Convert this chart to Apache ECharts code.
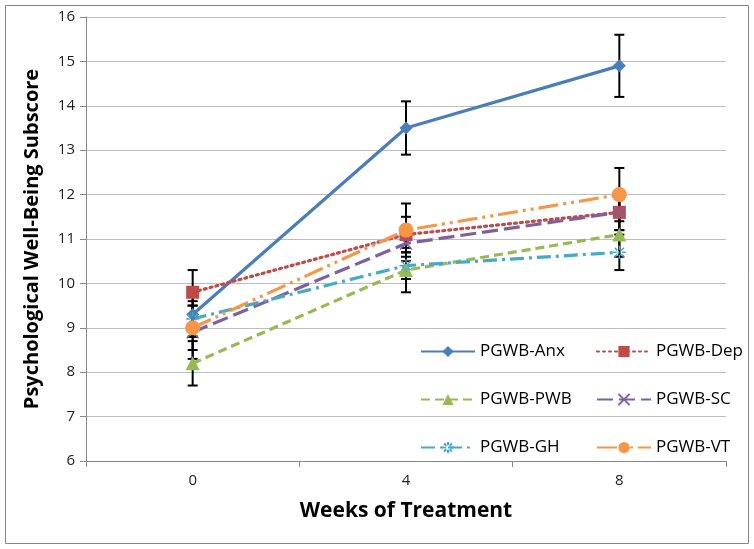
<!DOCTYPE html>
<html><head><meta charset="utf-8">
<script src="https://cdn.jsdelivr.net/npm/echarts@6/dist/echarts.min.js"></script>
<style>html,body{margin:0;padding:0;background:#fff}#c{width:754px;height:549px}</style>
</head><body><div id="c"></div>
<script>
var categories = ['0', '4', '8'];
var names = ['PGWB-Anx', 'PGWB-Dep', 'PGWB-PWB', 'PGWB-SC', 'PGWB-GH', 'PGWB-VT'];
var anx = [9.3, 13.5, 14.9];
var dep = [9.8, 11.1, 11.6];
var pwb = [8.2, 10.3, 11.1];
var sc  = [8.9, 10.9, 11.6];
var gh  = [9.2, 10.4, 10.7];
var vt  = [9.0, 11.2, 12.0];
var anxErr = [0.5, 0.6, 0.7];
var depErr = [0.5, 0.4, 0.4];
var pwbErr = [0.5, 0.5, 0.5];
var scErr  = [0.6, 0.4, 0.4];
var ghErr  = [0.4, 0.3, 0.4];
var vtErr  = [0.5, 0.6, 0.6];
var yTicks = [6, 16, 1];

var values = [anx, dep, pwb, sc, gh, vt];
var errs = [anxErr, depErr, pwbErr, scErr, ghErr, vtErr];
var colors = ['#4A7EBB', '#BE4B48', '#98B954', '#7D60A0', '#46AAC5', '#F79646'];
var dashes = ['solid', [2, 4], [9, 5], [16, 6], [14, 5, 3, 5], [20, 5, 3, 5, 3, 5]];
var symbols = [
  'diamond', 'rect', 'triangle',
  'path://M0,0L10,10M10,0L0,10',
  'path://M5,0L5,3M5,7L5,10M0,5L3,5M7,5L10,5M1.5,1.5L3.5,3.5M6.5,6.5L8.5,8.5M8.5,1.5L6.5,3.5M3.5,6.5L1.5,8.5',
  'circle'];
var symSizes = [13, 13, 14, 12, 13, 15];

var series = [];
values.forEach(function (v, si) {
  var d = v.map(function (y, i) { return [i, y - errs[si][i], y + errs[si][i]]; });
  series.push({
    type: 'custom', name: 'err' + si, data: d, z: 1, silent: true,
    renderItem: function (params, api) {
      var lo = api.coord([api.value(0), api.value(1)]);
      var hi = api.coord([api.value(0), api.value(2)]);
      var w = 5;
      var st = { stroke: '#000', lineWidth: 2 };
      return { type: 'group', children: [
        { type: 'line', shape: { x1: hi[0], y1: hi[1], x2: lo[0], y2: lo[1] }, style: st },
        { type: 'line', shape: { x1: hi[0] - w, y1: hi[1], x2: hi[0] + w, y2: hi[1] }, style: st },
        { type: 'line', shape: { x1: lo[0] - w, y1: lo[1], x2: lo[0] + w, y2: lo[1] }, style: st }
      ]};
    }
  });
});
values.forEach(function (v, si) {
  var isStroke = (si === 3 || si === 4);
  series.push({
    type: 'line', name: names[si], data: v, z: 3,
    symbol: symbols[si], symbolSize: symSizes[si], showSymbol: true,
    lineStyle: { color: colors[si], width: 3.2, type: dashes[si], cap: si === 1 ? 'round' : 'butt' },
    itemStyle: isStroke ? { color: 'rgba(0,0,0,0)', borderColor: colors[si], borderWidth: 1.5 }
                        : { color: colors[si], borderColor: colors[si], borderWidth: 0 }
  });
});

var legendBase = {
  orient: 'vertical', itemWidth: 54, itemHeight: 14, itemGap: 31,
  textStyle: { fontFamily: 'Open Sans', fontSize: 17, color: '#000', padding: [0, 0, 0, 0] }
};
var chart = echarts.init(document.getElementById('c'));
chart.setOption({
  animation: false,
  backgroundColor: '#fff',
  grid: { left: 86, right: 28, top: 17, bottom: 88 },
  legend: [
    Object.assign({}, legendBase, { left: 415, top: 338, data: [names[0], names[2], names[4]] }),
    Object.assign({}, legendBase, { left: 591, top: 338, data: [names[1], names[3], names[5]] })
  ],
  xAxis: {
    type: 'category', data: categories, boundaryGap: true,
    name: 'Weeks of Treatment', nameLocation: 'middle', nameGap: 40,
    nameTextStyle: { fontFamily: 'Open Sans', fontWeight: 'bold', fontSize: 21, color: '#000' },
    axisLine: { lineStyle: { color: '#898989', width: 1 } },
    axisTick: { show: true, length: 6, lineStyle: { color: '#898989' } },
    axisLabel: { fontFamily: 'Open Sans', fontSize: 15, color: '#222', margin: 12 },
    splitLine: { show: false }
  },
  yAxis: {
    type: 'value', min: yTicks[0], max: yTicks[1], interval: yTicks[2],
    name: 'Psychological Well-Being Subscore', nameLocation: 'middle', nameGap: 44,
    nameTextStyle: { fontFamily: 'Open Sans', fontWeight: 'bold', fontSize: 20, color: '#000' },
    axisLine: { show: true, lineStyle: { color: '#898989', width: 1 } },
    axisTick: { show: true, length: 6, inside: false, lineStyle: { color: '#898989' } },
    axisLabel: { fontFamily: 'Open Sans', fontSize: 15, color: '#222', margin: 11 },
    splitLine: { show: true, lineStyle: { color: '#bdbdbd', width: 1 } }
  },
  graphic: [{
    type: 'rect', shape: { x: 5.5, y: 5.5, width: 743, height: 538 },
    style: { fill: 'none', stroke: '#868686', lineWidth: 1 }, z: -1, silent: true
  }],
  series: series
});
</script></body></html>
